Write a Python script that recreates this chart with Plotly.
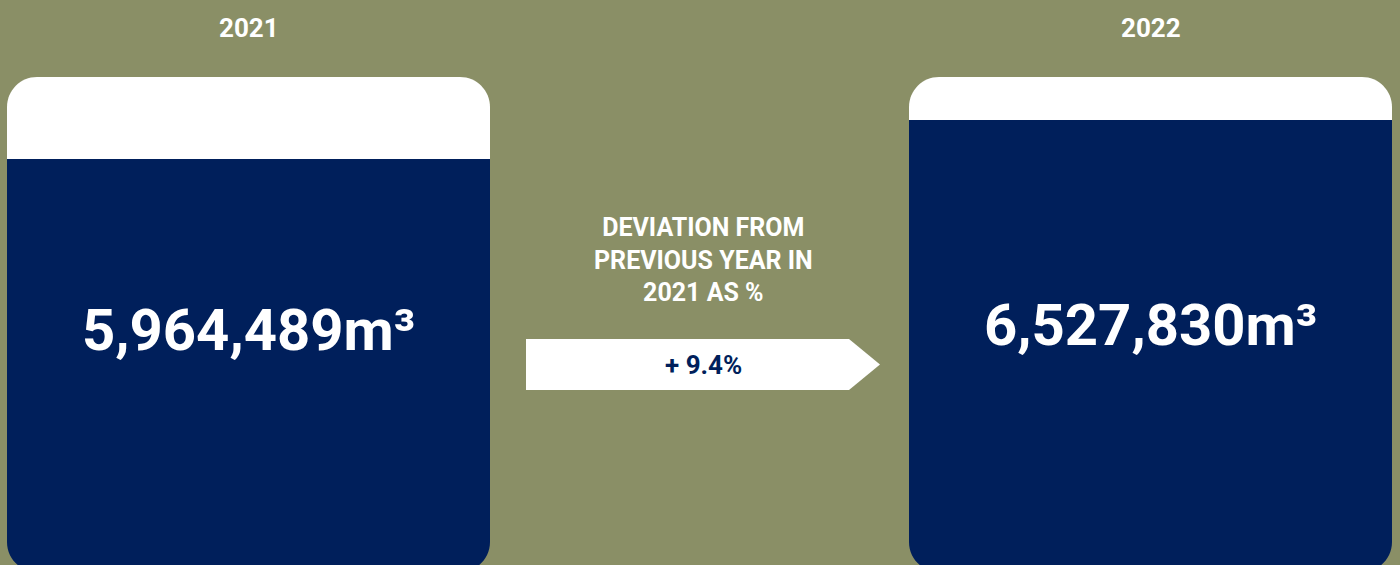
import plotly.graph_objects as go

# Water volume per year
years = ["2021", "2022"]
volumes_m3 = [5964489, 6527830]
deviation_pct = 9.4
deviation_title = ["DEVIATION FROM", "PREVIOUS YEAR IN", "2021 AS %"]

BG = "#8A8F66"
NAVY = "#001F5B"
WHITE = "#FFFFFF"
FONT = "Roboto"

W, H = 1400, 565
TOP = 77                 # top margin in px
PLOT_H = H - TOP         # plot area height in px
CENTER_GAP_PX = 902      # distance between the two bar centres
LEFT_PX = 248.5          # first bar centre from left edge
BAR_W = 483 / CENTER_GAP_PX
Y_MAX = 7.165e6

xs = list(range(len(years)))

fig = go.Figure()
fig.add_trace(go.Bar(
    x=xs, y=volumes_m3, width=BAR_W,
    marker=dict(color=NAVY, line=dict(width=0)),
    hoverinfo="skip",
))

x_left = -LEFT_PX / CENTER_GAP_PX
x_right = x_left + W / CENTER_GAP_PX

rx = 30 / CENTER_GAP_PX
ry = 30 / PLOT_H
k = 0.5523
y_bot = -7 / PLOT_H

shapes = []
for x in xs:
    x0, x1 = x - BAR_W / 2, x + BAR_W / 2
    y0, y1 = y_bot, 1.0
    # rounded container behind the bar
    path = (
        f"M {x0+rx},{y1} L {x1-rx},{y1} "
        f"C {x1-rx+k*rx},{y1} {x1},{y1-ry+k*ry} {x1},{y1-ry} "
        f"L {x1},{y0+ry} "
        f"C {x1},{y0+ry-k*ry} {x1-rx+k*rx},{y0} {x1-rx},{y0} "
        f"L {x0+rx},{y0} "
        f"C {x0+rx-k*rx},{y0} {x0},{y0+ry-k*ry} {x0},{y0+ry} "
        f"L {x0},{y1-ry} "
        f"C {x0},{y1-ry+k*ry} {x0+rx-k*rx},{y1} {x0+rx},{y1} Z"
    )
    shapes.append(dict(type="path", path=path, xref="x", yref="paper",
                       fillcolor=WHITE, line=dict(width=0), layer="below"))
    # background-coloured masks rounding the bar's bottom corners
    bl = (f"M {x0},{y0} L {x0},{y0+ry} "
          f"C {x0},{y0+ry-k*ry} {x0+rx-k*rx},{y0} {x0+rx},{y0} Z")
    br = (f"M {x1},{y0} L {x1},{y0+ry} "
          f"C {x1},{y0+ry-k*ry} {x1-rx+k*rx},{y0} {x1-rx},{y0} Z")
    for p in (bl, br):
        shapes.append(dict(type="path", path=p, xref="x", yref="paper",
                           fillcolor=BG, line=dict(width=0), layer="above"))

# helpers: pixel position -> paper y / x data units
def py(px):
    return (H - px) / PLOT_H

def pxx(px):
    return (px - LEFT_PX) / CENTER_GAP_PX

# arrow between the two boxes
ax0, ax1, axt = pxx(526), pxx(849), pxx(880)
ay0, ay1, aym = py(390), py(339), py(364.5)
shapes.append(dict(
    type="path", xref="x", yref="paper",
    path=f"M {ax0},{ay0} L {ax1},{ay0} L {axt},{aym} L {ax1},{ay1} L {ax0},{ay1} Z",
    fillcolor=WHITE, line=dict(width=0), layer="above",
))

annotations = []
for x, yr in zip(xs, years):
    annotations.append(dict(
        x=x, y=py(28), xref="x", yref="paper", text=f"<b>{yr}</b>",
        xanchor="center", yanchor="middle",
        showarrow=False, font=dict(family=FONT, size=26, color=WHITE),
    ))

value_y = [py(330), py(325)]
for x, v, yy in zip(xs, volumes_m3, value_y):
    annotations.append(dict(
        x=x, y=yy, xref="x", yref="paper",
        text=f"<b>{v:,}m³</b>",
        xanchor="center", yanchor="middle",
        showarrow=False, font=dict(family=FONT, size=58, color=WHITE),
    ))

annotations.append(dict(
    x=pxx(703), y=py(260), xref="x", yref="paper",
    text="<b>" + "<br>".join(deviation_title) + "</b>",
    xanchor="center", yanchor="middle",
    showarrow=False, align="center",
    font=dict(family=FONT, size=25, color=WHITE),
))
annotations.append(dict(
    x=pxx(703), y=aym, xref="x", yref="paper",
    text=f"<b>+ {deviation_pct}%</b>",
    xanchor="center", yanchor="middle",
    showarrow=False, font=dict(family=FONT, size=26, color=NAVY),
))

fig.update_layout(
    width=W, height=H,
    margin=dict(l=0, r=0, t=TOP, b=0, pad=0),
    paper_bgcolor=BG, plot_bgcolor="rgba(0,0,0,0)",
    showlegend=False,
    bargap=0,
    xaxis=dict(range=[x_left, x_right], visible=False, fixedrange=True),
    yaxis=dict(range=[0, Y_MAX], visible=False, fixedrange=True),
    shapes=shapes,
    annotations=annotations,
)

fig.write_html("out.html")
